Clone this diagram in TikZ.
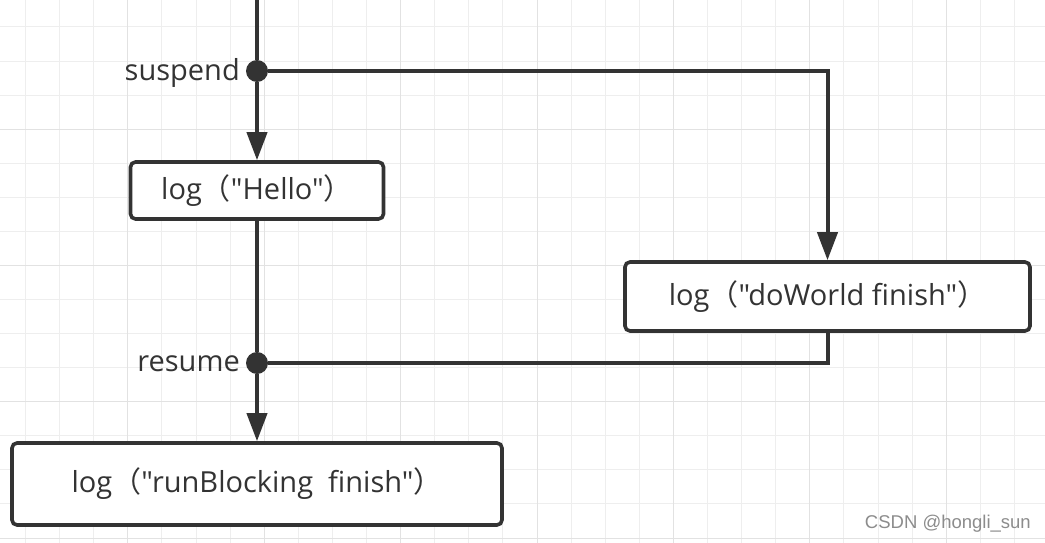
\documentclass[tikz,border=0pt]{standalone}
\usepackage{fontspec}
\setmainfont[Ligatures=TeXOff]{Open Sans}
\newfontfamily\cjk{Noto Sans CJK SC}
\newfontfamily\wmfont{Liberation Sans}
\usetikzlibrary{arrows.meta}
\definecolor{ink}{HTML}{333333}
\definecolor{gridminor}{HTML}{EEEEEE}
\definecolor{gridmajor}{HTML}{E2E2E2}
\definecolor{wm}{HTML}{8C8C8C}
\begin{document}
\begin{tikzpicture}[x=1pt,y=-1pt,
  box/.style={draw=ink,line width=3.6pt,rounded corners=5pt,fill=white,text=ink,
    inner sep=0pt,font=\fontsize{29}{34}\selectfont},
  dot/.style={circle,fill=ink,inner sep=0pt,minimum size=22pt},
  lbl/.style={text=ink,inner sep=0pt,font=\fontsize{29}{34}\selectfont},
  flow/.style={draw=ink,line width=4pt},
  arr/.style={flow,-{Triangle[width=20pt,length=28pt]}}]
\fill[white] (0,0) rectangle (1045,543);
\useasboundingbox (0,0) rectangle (1045,543);
\foreach \i in {0,...,30} {\draw[gridminor,line width=1pt] (25.5+34.1*\i,0) -- (25.5+34.1*\i,543);}
\foreach \j in {0,...,15} {\draw[gridminor,line width=1pt] (0,27+34.07*\j) -- (1045,27+34.07*\j);}
\foreach \i in {3,7,...,31} {\draw[gridmajor,line width=1pt] (25.5+34.1*\i,0) -- (25.5+34.1*\i,543);}
\foreach \j in {3,7,11,15} {\draw[gridmajor,line width=1pt] (0,27+34.07*\j) -- (1045,27+34.07*\j);}

\coordinate (top) at (257,0);
\node[dot] (suspend) at (257,71) {};
\node[dot] (resume) at (257,363) {};
\node[lbl,anchor=east] (suspendlbl) at (240,73) {suspend};
\node[lbl,anchor=east] (resumelbl) at (240,364) {resume};

\node[box,minimum width=253pt,minimum height=57pt] (hello) at (257,190.5)
  {log{\cjk（}"Hello"{\cjk）}\hspace{6pt}};
\node[box,minimum width=405pt,minimum height=69pt] (doworld) at (827.5,296.5)
  {log{\cjk（}"doWorld finish"{\cjk）}};
\node[box,minimum width=490pt,minimum height=82pt] (runblocking) at (257,484)
  {log{\cjk（}"runBlocking\ \ finish"{\cjk）}\hspace{8pt}};

\draw[flow] (top) -- (suspend);
\draw[arr] (suspend) -- (hello);
\draw[arr] (suspend) -| (doworld);
\draw[flow] (hello) -- (resume);
\draw[flow] (doworld.south) |- (resume);
\draw[arr] (resume) -- (runblocking);

\node[text=wm,inner sep=0pt,anchor=east,font=\wmfont\fontsize{18.5}{21}\selectfont] (wmark) at (1031,524) {CSDN @hongli\_sun};
\end{tikzpicture}
\end{document}
